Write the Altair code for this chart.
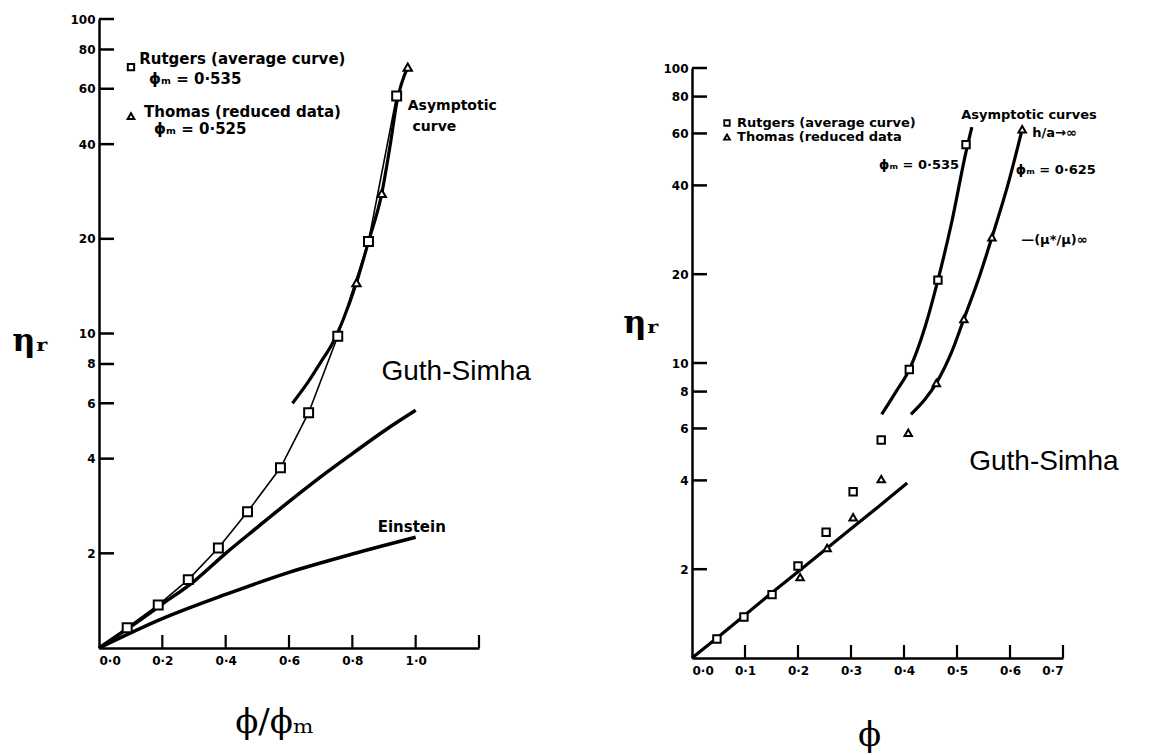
import altair as alt
import pandas as pd

# ---------------- Left panel (eta_r vs phi/phi_m) ----------------
L_RUT_X = [0.089, 0.187, 0.282, 0.377, 0.469, 0.573, 0.662, 0.754, 0.851, 0.94]
L_RUT_Y = [1.16, 1.37, 1.65, 2.08, 2.71, 3.74, 5.6, 9.8, 19.6, 56.9]
L_THO_X = [0.813, 0.893, 0.975]
L_THO_Y = [14.5, 27.9, 70.3]
L_ASY_X = [0.611, 0.66, 0.70, 0.737, 0.77, 0.813, 0.851, 0.893, 0.92, 0.94, 0.975]
L_ASY_Y = [6.0, 7.0, 8.1, 9.3, 11.0, 14.5, 19.6, 27.9, 40.0, 54.0, 70.3]
L_GS_X = [0.0, 0.1, 0.2, 0.3, 0.4, 0.5, 0.6, 0.7, 0.8, 0.9, 1.0]
L_GS_Y = [1.0, 1.17, 1.38, 1.63, 2.0, 2.42, 2.92, 3.5, 4.15, 4.9, 5.7]
L_EIN_X = [0.0, 0.2, 0.4, 0.6, 0.8, 1.0]
L_EIN_Y = [1.0, 1.24, 1.48, 1.74, 1.99, 2.25]
L_XTICKS = [0.0, 0.2, 0.4, 0.6, 0.8, 1.0]
L_XMARKS = [0.2, 0.4, 0.6, 0.8, 1.0, 1.2]

# ---------------- Right panel (eta_r vs phi) ----------------
R_RUT_X = [0.047, 0.098, 0.151, 0.2, 0.253, 0.304, 0.357, 0.41, 0.464, 0.517]
R_RUT_Y = [1.16, 1.377, 1.64, 2.05, 2.67, 3.66, 5.48, 9.5, 19.1, 55.0]
R_THO_X = [0.204, 0.255, 0.304, 0.357, 0.408, 0.461, 0.513, 0.566, 0.623]
R_THO_Y = [1.88, 2.36, 3.0, 4.04, 5.8, 8.55, 14.1, 26.7, 62.0]
R_ASR_X = [0.358, 0.385, 0.41, 0.44, 0.464, 0.49, 0.517, 0.528]
R_ASR_Y = [6.7, 8.0, 9.5, 13.3, 19.1, 30.0, 52.0, 63.0]
R_AST_X = [0.413, 0.44, 0.461, 0.49, 0.513, 0.54, 0.566, 0.595, 0.623]
R_AST_Y = [6.7, 7.55, 8.55, 10.9, 14.1, 19.1, 26.7, 39.6, 62.0]
R_GS_X = [0.0, 0.05, 0.1, 0.15, 0.2, 0.25, 0.3, 0.35, 0.406]
R_GS_Y = [1.0, 1.18, 1.4, 1.66, 1.96, 2.32, 2.74, 3.24, 3.92]
R_XTICKS = [0.0, 0.1, 0.2, 0.3, 0.4, 0.5, 0.6, 0.7]
R_XMARKS = [0.1, 0.2, 0.3, 0.4, 0.5, 0.6, 0.7]

Y_TICKS = [2, 4, 6, 8, 10, 20, 40, 60, 80, 100]

# annotations (x, y, text)
L_LEGEND_TXT = [(0.127, 74.6, "Rutgers (average curve)"), (0.158, 64.4, "ϕₘ = 0·535"),
                (0.142, 50.6, "Thomas (reduced data)"), (0.174, 44.6, "ϕₘ = 0·525")]
L_ASY_TXT = [(0.975, 52.8, "Asymptotic"), (0.99, 45.3, "curve")]
L_EIN_TXT = [(0.88, 2.43, "Einstein")]
L_GS_TXT = [(0.892, 7.57, "Guth-Simha")]
L_SQ_KEY = [(0.101, 70.3)]
L_TR_KEY = [(0.101, 49.1)]

R_TXT = [(0.085, 65.1, "Rutgers (average curve)"), (0.085, 58.3, "Thomas (reduced data"),
         (0.353, 46.9, "ϕₘ = 0·535"), (0.611, 45.1, "ϕₘ = 0·625"),
         (0.508, 69.3, "Asymptotic curves"), (0.642, 60.2, "h/a→∞"),
         (0.621, 26.1, "—(μ*/μ)∞")]
R_GS_TXT = [(0.523, 4.62, "Guth-Simha")]
R_SQ_KEY = [(0.066, 65.1)]
R_TR_KEY = [(0.066, 58.3)]

INK = "#000000"
SANS = "DejaVu Sans"


def xy(xs, ys):
    return pd.DataFrame({"x": xs, "y": ys})


def txt(rows):
    return pd.DataFrame(rows, columns=["x", "y", "t"])


def panel(W, H, xdom, yrange, xticks, xmarks, xtitle, xtitle_pos, ytitle_pos, layers_fn):
    xs = alt.Scale(domain=xdom, nice=False, zero=False)
    ys = alt.Scale(type="log", domain=[1, 100], nice=False, range=yrange)
    xaxis = alt.Axis(values=xticks, labelExpr="replace(format(datum.value, '.1f'), '.', '·')",
                     grid=False, ticks=False, tickSize=0, domainColor=INK, domainWidth=2.5,
                     labelFont=SANS, labelFontWeight="bold", labelFontSize=12, labelColor=INK,
                     labelPadding=7, title=xtitle, titleFont="DejaVu Serif", titleFontSize=34,
                     titleFontWeight="normal", titleColor=INK, titleX=xtitle_pos[0],
                     titleY=xtitle_pos[1], titleBaseline="middle", titleAlign="center")
    yaxis = alt.Axis(values=Y_TICKS, labelExpr="format(datum.value, 'd')", grid=False,
                     ticks=False, tickSize=0, domainColor=INK, domainWidth=2.5,
                     labelFont=SANS, labelFontWeight="bold", labelFontSize=12, labelColor=INK,
                     labelPadding=4, title="ηᵣ", titleFont="DejaVu Serif", titleFontSize=32,
                     titleFontWeight="bold", titleColor=INK, titleAngle=0,
                     titleX=ytitle_pos[0], titleY=ytitle_pos[1], titleBaseline="middle",
                     titleAlign="center")

    def X(f="x"):
        return alt.X(f, type="quantitative", scale=xs, axis=xaxis)

    def Y(f="y"):
        return alt.Y(f, type="quantitative", scale=ys, axis=yaxis)

    ytk = alt.Chart(pd.DataFrame({"y": Y_TICKS})).mark_tick(
        color=INK, thickness=2.5, size=15, orient="horizontal", opacity=1).encode(
        y=Y(), x=alt.value(7.5))
    ybot = yrange[0]
    xtk = alt.Chart(pd.DataFrame({"x": xmarks})).mark_tick(
        color=INK, thickness=2.2, size=13, orient="vertical", opacity=1).encode(
        x=X(), y=alt.value(ybot - 6.5))
    layers = [ytk, xtk] + layers_fn(X, Y)
    return alt.layer(*layers).properties(width=W, height=H)


def left_layers(X, Y):
    out = []
    rut_line = xy([0.0] + L_RUT_X, [1.0] + L_RUT_Y)
    out.append(alt.Chart(rut_line).mark_line(color=INK, strokeWidth=1.6).encode(x=X(), y=Y()))
    out.append(alt.Chart(xy(L_ASY_X, L_ASY_Y)).mark_line(color=INK, strokeWidth=3.2,
               interpolate="monotone").encode(x=X(), y=Y()))
    out.append(alt.Chart(xy(L_GS_X, L_GS_Y)).mark_line(color=INK, strokeWidth=3.5,
               interpolate="monotone").encode(x=X(), y=Y()))
    out.append(alt.Chart(xy(L_EIN_X, L_EIN_Y)).mark_line(color=INK, strokeWidth=3.5,
               interpolate="monotone").encode(x=X(), y=Y()))
    out.append(alt.Chart(xy(L_RUT_X, L_RUT_Y)).mark_point(shape="square", filled=True, fill="white",
               stroke=INK, strokeWidth=2, size=80, opacity=1).encode(x=X(), y=Y()))
    out.append(alt.Chart(xy(L_THO_X, L_THO_Y)).mark_point(shape="triangle-up", filled=True, fill="white",
               stroke=INK, strokeWidth=2, size=70, opacity=1).encode(x=X(), y=Y()))
    out.append(alt.Chart(pd.DataFrame(L_SQ_KEY, columns=["x", "y"])).mark_point(
        shape="square", filled=False, stroke=INK, strokeWidth=2, size=40, opacity=1).encode(x=X(), y=Y()))
    out.append(alt.Chart(pd.DataFrame(L_TR_KEY, columns=["x", "y"])).mark_point(
        shape="triangle-up", filled=False, stroke=INK, strokeWidth=2, size=45, opacity=1).encode(x=X(), y=Y()))
    out.append(alt.Chart(txt(L_LEGEND_TXT)).mark_text(align="left", baseline="middle", font=SANS,
               fontWeight="bold", fontSize=15, color=INK).encode(x=X(), y=Y(), text="t:N"))
    out.append(alt.Chart(txt(L_ASY_TXT)).mark_text(align="left", baseline="middle", font=SANS,
               fontWeight="bold", fontSize=14, color=INK).encode(x=X(), y=Y(), text="t:N"))
    out.append(alt.Chart(txt(L_EIN_TXT)).mark_text(align="left", baseline="middle", font=SANS,
               fontWeight="bold", fontSize=15, color=INK).encode(x=X(), y=Y(), text="t:N"))
    out.append(alt.Chart(txt(L_GS_TXT)).mark_text(align="left", baseline="middle", font="Liberation Sans",
               fontSize=28, color=INK).encode(x=X(), y=Y(), text="t:N"))
    return out


def right_layers(X, Y):
    out = []
    out.append(alt.Chart(xy(R_GS_X, R_GS_Y)).mark_line(color=INK, strokeWidth=3.2).encode(x=X(), y=Y()))
    out.append(alt.Chart(xy(R_ASR_X, R_ASR_Y)).mark_line(color=INK, strokeWidth=3.2,
               interpolate="monotone").encode(x=X(), y=Y()))
    out.append(alt.Chart(xy(R_AST_X, R_AST_Y)).mark_line(color=INK, strokeWidth=3.2,
               interpolate="monotone").encode(x=X(), y=Y()))
    out.append(alt.Chart(xy(R_RUT_X, R_RUT_Y)).mark_point(shape="square", filled=True, fill="white",
               stroke=INK, strokeWidth=2, size=55, opacity=1).encode(x=X(), y=Y()))
    out.append(alt.Chart(xy(R_THO_X, R_THO_Y)).mark_point(shape="triangle-up", filled=True, fill="white",
               stroke=INK, strokeWidth=2, size=55, opacity=1).encode(x=X(), y=Y()))
    out.append(alt.Chart(pd.DataFrame(R_SQ_KEY, columns=["x", "y"])).mark_point(
        shape="square", filled=False, stroke=INK, strokeWidth=1.8, size=30, opacity=1).encode(x=X(), y=Y()))
    out.append(alt.Chart(pd.DataFrame(R_TR_KEY, columns=["x", "y"])).mark_point(
        shape="triangle-up", filled=False, stroke=INK, strokeWidth=1.8, size=35, opacity=1).encode(x=X(), y=Y()))
    out.append(alt.Chart(txt(R_TXT)).mark_text(align="left", baseline="middle", font=SANS,
               fontWeight="bold", fontSize=13, color=INK).encode(x=X(), y=Y(), text="t:N"))
    out.append(alt.Chart(txt(R_GS_TXT)).mark_text(align="left", baseline="middle", font="Liberation Sans",
               fontSize=28, color=INK).encode(x=X(), y=Y(), text="t:N"))
    return out


left = panel(380, 629, [0, 1.2], [629, 0], L_XTICKS, L_XMARKS, "ϕ/ϕₘ", (175, 74), (-69, 321), left_layers)
right = panel(371, 639, [0, 0.7], [639, 49], R_XTICKS, R_XMARKS, "ϕ", (177, 77), (-51, 303), right_layers)

chart = alt.hconcat(left, right, spacing=213, bounds="flush").properties(
    padding={"left": 3, "top": 5, "right": 5, "bottom": 5},
    background="white",
).configure_view(stroke=None)

chart.save("out.html", embed_options={"renderer": "svg", "actions": False})
